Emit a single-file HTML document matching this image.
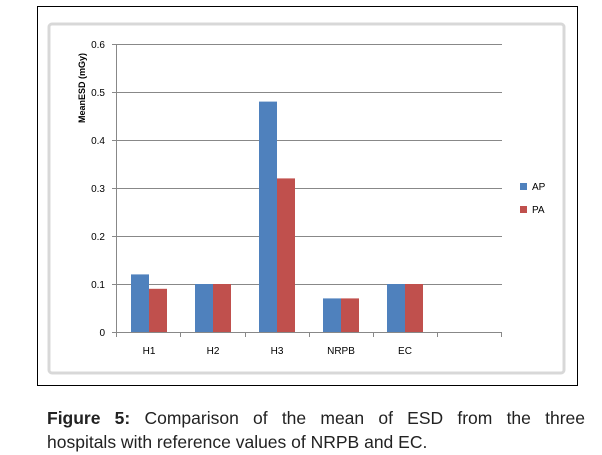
<!DOCTYPE html>
<html><head><style>
body{margin:0;background:#fff;width:602px;height:455px;overflow:hidden;position:relative;font-family:"Liberation Sans",sans-serif}
.cap{position:absolute;left:47px;width:538px;font-size:17.5px;color:#222;text-align:justify;text-align-last:justify;line-height:24px}
</style></head><body>
<svg width="602" height="400" style="position:absolute;left:0;top:0" font-family="Liberation Sans, sans-serif">
<rect x="37.5" y="6.5" width="540" height="379" fill="#fff" stroke="#000" stroke-width="1"/>
<rect x="49" y="24" width="515" height="349" fill="#fff" stroke="#d8d8d8" stroke-width="3" rx="3"/>
<g stroke="#888" stroke-width="1">
<line x1="116" y1="44.5" x2="502" y2="44.5"/>
<line x1="116" y1="92.5" x2="502" y2="92.5"/>
<line x1="116" y1="140.5" x2="502" y2="140.5"/>
<line x1="116" y1="188.5" x2="502" y2="188.5"/>
<line x1="116" y1="236.5" x2="502" y2="236.5"/>
<line x1="116" y1="284.5" x2="502" y2="284.5"/>
<line x1="116" y1="332.5" x2="502" y2="332.5"/>
<line x1="116.5" y1="44" x2="116.5" y2="337"/>
<line x1="112" y1="44.5" x2="116" y2="44.5"/><line x1="112" y1="92.5" x2="116" y2="92.5"/><line x1="112" y1="140.5" x2="116" y2="140.5"/><line x1="112" y1="188.5" x2="116" y2="188.5"/><line x1="112" y1="236.5" x2="116" y2="236.5"/><line x1="112" y1="284.5" x2="116" y2="284.5"/><line x1="112" y1="332.5" x2="116" y2="332.5"/>
<line x1="180.5" y1="332" x2="180.5" y2="337"/><line x1="245.5" y1="332" x2="245.5" y2="337"/><line x1="309.5" y1="332" x2="309.5" y2="337"/><line x1="373.5" y1="332" x2="373.5" y2="337"/><line x1="437.5" y1="332" x2="437.5" y2="337"/><line x1="501.5" y1="332" x2="501.5" y2="337"/>
</g>
<g fill="#4f81bd">
<rect x="131" y="274.4" width="18" height="57.6"/>
<rect x="195" y="284" width="18" height="48"/>
<rect x="259" y="101.6" width="18" height="230.4"/>
<rect x="323" y="298.4" width="18" height="33.6"/>
<rect x="387" y="284" width="18" height="48"/>
<rect x="520" y="183" width="7" height="7"/>
</g>
<g fill="#c0504d">
<rect x="149" y="288.8" width="18" height="43.2"/>
<rect x="213" y="284" width="18" height="48"/>
<rect x="277" y="178.4" width="18" height="153.6"/>
<rect x="341" y="298.4" width="18" height="33.6"/>
<rect x="405" y="284" width="18" height="48"/>
<rect x="520" y="206" width="7" height="7"/>
</g>
<g font-size="10" fill="#000" text-anchor="end">
<text x="105" y="48">0.6</text><text x="105" y="96">0.5</text><text x="105" y="144">0.4</text><text x="105" y="192">0.3</text><text x="105" y="240">0.2</text><text x="105" y="288">0.1</text><text x="105" y="336">0</text>
</g>
<g font-size="10" fill="#000" text-anchor="middle">
<text x="149" y="354">H1</text><text x="213" y="354">H2</text><text x="277" y="354">H3</text><text x="341" y="354">NRPB</text><text x="405" y="354">EC</text>
</g>
<text x="532" y="190" font-size="10">AP</text>
<text x="532" y="213" font-size="10">PA</text>
<text transform="translate(85,88) rotate(-90)" font-size="9" font-weight="bold" text-anchor="middle">MeanESD (mGy)</text>
</svg>
<div class="cap" style="top:406px"><b>Figure 5:</b> Comparison of the mean of ESD from the three</div>
<div class="cap" style="top:430px;text-align:left;text-align-last:left">hospitals with reference values of NRPB and EC.</div>
</body></html>
